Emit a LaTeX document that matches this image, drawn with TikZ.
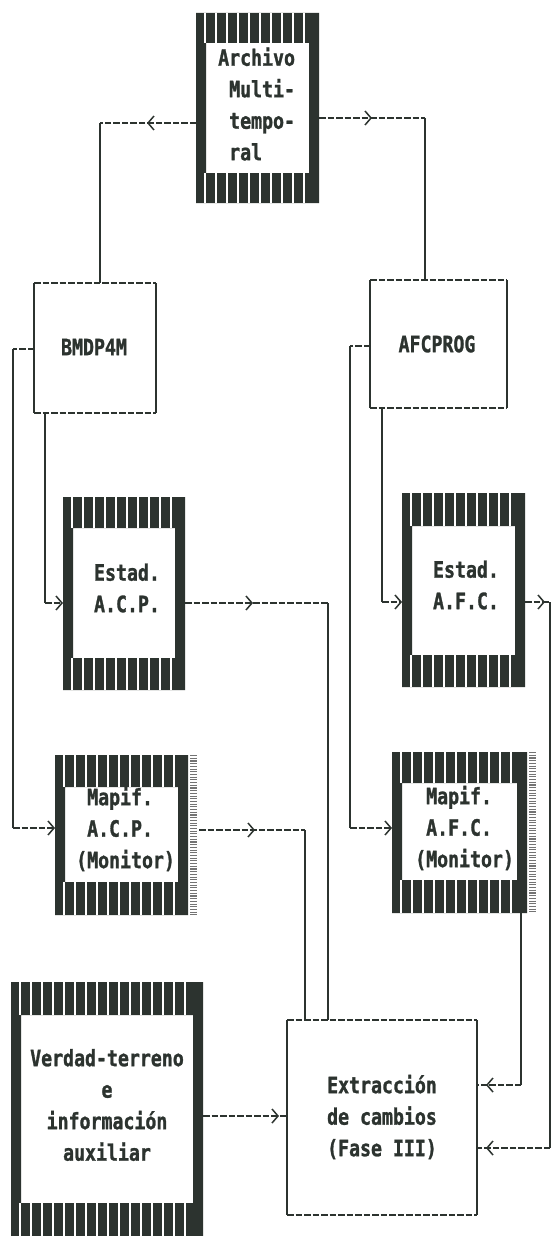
\documentclass[tikz,border=0pt]{standalone}
\usepackage{fontspec}
\newfontfamily\dm[FakeStretch=0.81,FakeBold=1.2,BoldFont={DejaVu Sans Mono Bold}]{DejaVu Sans Mono}
\usetikzlibrary{calc,arrows.meta,decorations.markings}
\definecolor{ink}{HTML}{2C332F}
\tikzset{
  boxshape/.style={rectangle, draw=none, inner sep=0pt, outer sep=0pt},
  hl/.style={draw=ink, line width=1.4pt, dash pattern=on 6.5pt off 2pt},
  vl/.style={draw=ink, line width=1.2pt},
  chev/.style={-{Straight Barb[length=6pt,width=14pt,line width=1.5pt]}},
  tipat/.style={postaction={solid, decorate, decoration={markings,
      mark=at position #1 with {\arrow{Straight Barb[length=6pt,width=14pt,line width=1.5pt]}}}}},
  lbl/.style={font=\fontsize{22.5}{31.5}\dm\bfseries, text=ink, inner sep=0pt},
}
% name, x1, y1, x2, y2, top band, bottom band, side band
\newcommand\mkhatchbox[8]{%
  \node[boxshape, minimum width={(#4)-(#2)}, minimum height={(#5)-(#3)}] (#1) at ({((#2)+(#4))/2},{((#3)+(#5))/2}) {};
  \fill[ink, even odd rule] (#2,#3) rectangle (#4,#5)
     ({(#2)+(#8)},{(#3)+(#6)}) rectangle ({(#4)-(#8)},{(#5)-(#7)});
  \pgfmathtruncatemacro\nstripes{((#4)-(#2)-6)/11}
  \foreach \k in {1,...,\nstripes}{
    \draw[white, line width=1.6pt] ({(#2)+\k*11-2},{#3}) -- ++(0,{#6});
    \draw[white, line width=1.6pt] ({(#2)+\k*11-2},{(#5)-(#7)}) -- ({(#2)+\k*11-2},{#5});
  }
}
% name, x1, y1, x2, y2
\newcommand\mkdashedbox[5]{%
  \node[boxshape, minimum width={(#4)-(#2)}, minimum height={(#5)-(#3)}] (#1) at ({((#2)+(#4))/2},{((#3)+(#5))/2}) {};
  \draw[hl] (#1.north west) -- (#1.north east) (#1.south west) -- (#1.south east);
  \draw[vl] (#1.north west) -- (#1.south west) (#1.north east) -- (#1.south east);
}
% dotted strip: x, y1, y2
\newcommand\mkstrip[3]{%
  \draw[black!55, line width=7pt, dash pattern=on 1.1pt off 1.6pt] (#1,#2) -- (#1,#3);
}
\begin{document}
\begin{tikzpicture}[x=1pt,y=-1pt]
\useasboundingbox (0,0) rectangle (553,1236);
\fill[white] (0,0) rectangle (553,1236);
\clip (0,0) rectangle (553,1236);

% boxes
\mkhatchbox{arch}{196}{13}{319}{203}{30}{30}{10}
\mkdashedbox{bmdp}{34}{283}{156}{413}
\mkdashedbox{afc}{370}{280}{507}{408}
\mkhatchbox{eacp}{63}{497}{185}{690}{31}{32}{10}
\mkhatchbox{eafc}{402}{493}{525}{687}{33}{32}{10}
\mkhatchbox{macp}{55}{755}{188}{915}{32}{33}{10}
\mkstrip{193}{755}{915}
\mkhatchbox{mafc}{392}{752}{527}{913}{31}{33}{10}
\mkstrip{532}{752}{913}
\mkhatchbox{verd}{11}{982}{203}{1250}{33}{47}{10}
\mkdashedbox{extr}{287}{1020}{477}{1215}

% labels
\node[lbl, align=left, anchor=west] (arch-t) at (218,104)
  {Archivo\\\hphantom{A}Multi-\\\hphantom{A}tempo-\\\hphantom{A}ral};
\node[lbl] (bmdp-t) at (94,347) {BMDP4M};
\node[lbl] (afc-t) at (437,344) {AFCPROG};
\node[lbl, align=center] (eacp-t) at (127,588) {Estad.\\A.C.P.};
\node[lbl, align=center] (eafc-t) at (466,585) {Estad.\\A.F.C.};
\node[lbl, align=left, anchor=west] (macp-t) at (76,829)
  {\hphantom{(}Mapif.\\\hphantom{(}A.C.P.\\(Monitor)};
\node[lbl, align=left, anchor=west] (mafc-t) at (415,828)
  {\hphantom{(}Mapif.\\\hphantom{(}A.F.C.\\(Monitor)};
\node[lbl, align=center] (verd-t) at (107,1105)
  {Verdad-terreno\\e\\información\\auxiliar};
\node[lbl, align=center] (extr-t) at (382,1117)
  {Extracción\\de cambios\\(Fase III)};

% corner coordinates
\coordinate (c1) at (100,123);
\coordinate (c2) at (425,118);
\coordinate (c3) at (45,603);
\coordinate (c4) at (13,349);
\coordinate (c5) at (13,828);
\coordinate (c6) at (382,602);
\coordinate (c7) at (350,346);
\coordinate (c8) at (350,828);
\coordinate (c9) at (328,603);
\coordinate (c10) at (305,830);
\coordinate (c11) at (550,602);
\coordinate (c12) at (550,1148);
\coordinate (c13) at (521,1085);

% connectors
\draw[hl, tipat=49pt] (arch.west |- c1) -- (c1);
\draw[vl] (c1) -- (bmdp.north -| c1);
\draw[hl, tipat=53pt] (arch.east |- c2) -- (c2);
\draw[vl] (c2) -- (afc.north -| c2);

\draw[vl] (bmdp.south -| c3) -- (c3);
\draw[hl, chev] (c3) -- (eacp.west |- c3);
\draw[hl] (bmdp.west |- c4) -- (c4);
\draw[vl] (c4) -- (c5);
\draw[hl, chev] (c5) -- (macp.west |- c5);

\draw[vl] (afc.south -| c6) -- (c6);
\draw[hl, chev] (c6) -- (eafc.west |- c6);
\draw[hl] (afc.west |- c7) -- (c7);
\draw[vl] (c7) -- (c8);
\draw[hl, chev] (c8) -- (mafc.west |- c8);

\draw[hl, tipat=68pt] (eacp.east |- c9) -- (c9);
\draw[vl] (c9) -- (extr.north -| c9);
\draw[hl, tipat=56pt] ($(macp.east |- c10)+(11,0)$) -- (c10);
\draw[vl] (c10) -- (extr.north -| c10);

\draw[hl, tipat=20pt] (eafc.east |- c11) -- (c11);
\draw[vl] (c11) -- (c12);
\draw[hl, tipat=64pt] (c12) -- (extr.east |- c12);
\draw[vl] (mafc.south -| c13) -- (c13);
\draw[hl, tipat=35pt] (c13) -- (extr.east |- c13);

\draw[hl, tipat=76pt] (verd.east) -- (extr.west |- verd.east);
\end{tikzpicture}
\end{document}
